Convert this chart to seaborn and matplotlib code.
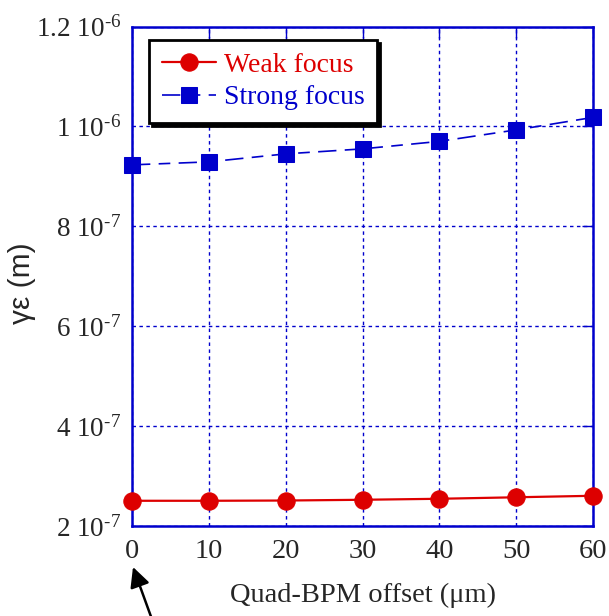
import matplotlib
matplotlib.use("Agg")
import matplotlib.pyplot as plt
import seaborn as sns
import pandas as pd
from matplotlib.ticker import FixedLocator

offsets = [0, 10, 20, 30, 40, 50, 60]
weak_focus = [2.505e-7, 2.505e-7, 2.51e-7, 2.525e-7, 2.545e-7, 2.575e-7, 2.605e-7]
strong_focus = [9.23e-7, 9.29e-7, 9.45e-7, 9.55e-7, 9.70e-7, 9.93e-7, 1.018e-6]
y_ticks = [2e-7, 4e-7, 6e-7, 8e-7, 1e-6, 1.2e-6]
y_tick_labels = [r"2 10$^{\text{-}7}$", r"4 10$^{\text{-}7}$", r"6 10$^{\text{-}7}$",
                 r"8 10$^{\text{-}7}$", r"1 10$^{\text{-}6}$", r"1.2 10$^{\text{-}6}$"]
x_ticks = [0, 10, 20, 30, 40, 50, 60]

sns.set_style("white")
plt.rcParams["font.family"] = ["Liberation Serif", "DejaVu Serif"]
plt.rcParams["mathtext.fontset"] = "custom"
plt.rcParams["mathtext.rm"] = "Liberation Serif"
plt.rcParams["mathtext.default"] = "regular"

blue = "#0000cc"
red = "#dd0000"

fig = plt.figure(figsize=(6.09, 6.16), dpi=100)
ax = fig.add_axes([132/609, 1-526/616, (593-132)/609, (526-26.5)/616])

df_w = pd.DataFrame({"x": offsets, "y": weak_focus})
df_s = pd.DataFrame({"x": offsets, "y": strong_focus})

sns.lineplot(data=df_w, x="x", y="y", ax=ax, color=red, lw=1.6, marker="o",
             markersize=12.5, markeredgecolor=red, label="Weak focus", zorder=5, clip_on=False)
sns.lineplot(data=df_s, x="x", y="y", ax=ax, color=blue, lw=1.2, marker="s",
             markersize=12, markeredgecolor=blue, label="Strong focus", zorder=5,
             clip_on=False)
ax.lines[-1].set_dashes((11, 5, 7, 5))

ax.set_xlim(0, 60)
ax.set_ylim(2e-7, 1.2e-6)
ax.xaxis.set_major_locator(FixedLocator(x_ticks))
ax.yaxis.set_major_locator(FixedLocator(y_ticks))
ax.set_yticklabels(y_tick_labels)
ax.set_xticklabels([str(v) for v in x_ticks])

ax.grid(True, color=blue, linestyle=(0, (2.5, 2.5)), lw=1)
for s in ax.spines.values():
    s.set_color(blue)
    s.set_linewidth(1.8)
    s.set_visible(True)
ax.tick_params(axis="both", which="major", direction="in", length=8, width=1,
               color=blue, top=True, right=True, labelsize=20.5, pad=9)
ax.tick_params(axis="y", labelsize=19.5, pad=8)

ax.set_xlabel("Quad-BPM offset (μm)", fontsize=20.5, labelpad=14)
ax.set_ylabel("")
fig.text(22/609, 1-283/616, "γε (m)", rotation=90, ha="center", va="center",
         fontsize=21.5, family=["Liberation Sans", "DejaVu Sans"])

leg = ax.legend(loc="upper left", bbox_to_anchor=(0.037, 0.973), borderaxespad=0,
                fontsize=20, frameon=True, fancybox=False, shadow={"color": "k", "alpha": 1},
                handlelength=1.95, handletextpad=0.3, borderpad=0.45, labelspacing=0.25,
                labelcolor="linecolor")
leg.get_frame().set_edgecolor("k")
leg.get_frame().set_linewidth(2)
leg.get_frame().set_alpha(1)

ax.annotate("", xy=(133/609, 1-567/616), xycoords="figure fraction",
            xytext=(153/609, -0.01), textcoords="figure fraction",
            arrowprops=dict(arrowstyle="-|>", color="k", lw=1.8, mutation_scale=30,
                            shrinkA=0, shrinkB=0),
            annotation_clip=False)

fig.savefig("out.png", dpi=100)
